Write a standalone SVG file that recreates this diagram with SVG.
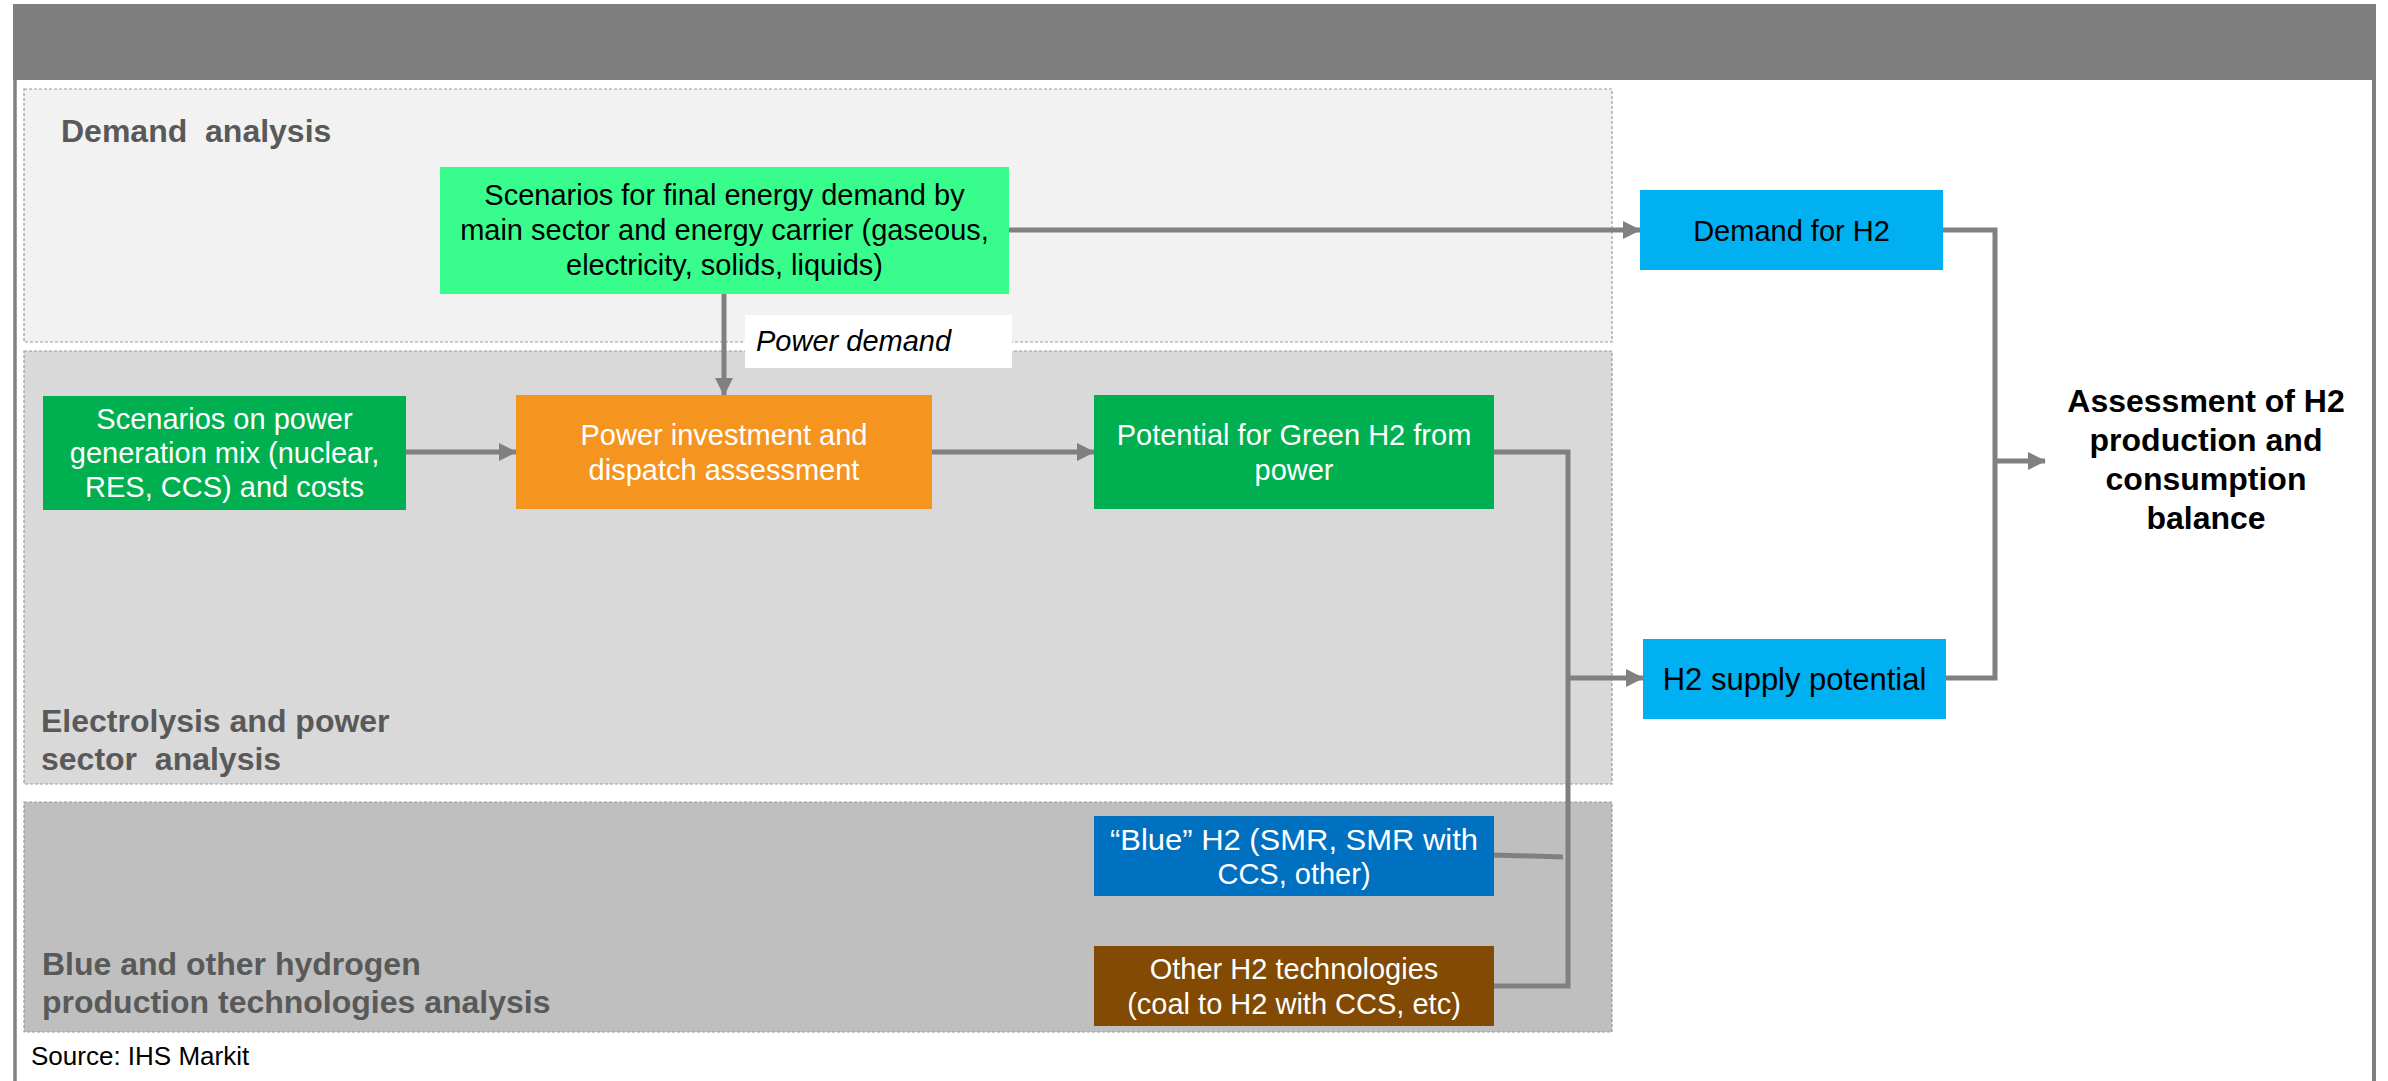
<svg xmlns="http://www.w3.org/2000/svg" width="2388" height="1081" viewBox="0 0 2388 1081">
<style>
.region{stroke:#9a9a9a;stroke-width:1.2;stroke-dasharray:3 2}
.rlabel{font-family:"Liberation Sans",Arial,sans-serif;font-size:32px;font-weight:bold;fill:#595959}
.t{font-family:"Liberation Sans",Arial,sans-serif;font-size:29px;text-anchor:middle}
.w{fill:#ffffff}
.k{fill:#000000}
.big{font-size:32px;font-weight:bold}
.conn{fill:none;stroke:#808080;stroke-width:5;stroke-linejoin:miter}
</style>
<defs>
<marker id="arr" markerUnits="userSpaceOnUse" markerWidth="18" markerHeight="18" refX="17" refY="9" orient="auto" viewBox="0 0 18 18">
<path d="M0,0 L18,9 L0,18 z" fill="#808080"/>
</marker>
</defs>
<rect width="2388" height="1081" fill="#ffffff"/>
<g id="frame">
<rect x="13" y="4" width="2363" height="76" fill="#7f7f7f"/>
<line x1="15" y1="78" x2="15" y2="1081" stroke="#808080" stroke-width="3.5"/>
<line x1="2374" y1="78" x2="2374" y2="1081" stroke="#808080" stroke-width="4"/>
</g>
<g id="region-demand">
<rect class="region" x="24" y="89" width="1588" height="253" fill="#f2f2f2"/>
<text class="rlabel" x="61" y="142" xml:space="preserve">Demand  analysis</text>
</g>
<g id="region-electrolysis">
<rect class="region" x="24" y="351" width="1588" height="433" fill="#d9d9d9"/>
<text class="rlabel" x="41" y="732">Electrolysis and power</text>
<text class="rlabel" x="41" y="770" xml:space="preserve">sector  analysis</text>
</g>
<g id="region-blue">
<rect class="region" x="24" y="802" width="1588" height="230" fill="#bfbfbf"/>
<text class="rlabel" x="42" y="975">Blue and other hydrogen</text>
<text class="rlabel" x="42" y="1013">production technologies analysis</text>
</g>
<g id="connectors">
<line class="conn" x1="1009" y1="230" x2="1640" y2="230" marker-end="url(#arr)"/>
<line class="conn" x1="724" y1="294" x2="724" y2="395" marker-end="url(#arr)"/>
<line class="conn" x1="406" y1="452" x2="516" y2="452" marker-end="url(#arr)"/>
<line class="conn" x1="932" y1="452" x2="1094" y2="452" marker-end="url(#arr)"/>
<polyline class="conn" points="1494,452 1568,452 1568,986 1494,986"/>
<line class="conn" x1="1568" y1="678" x2="1643" y2="678" marker-end="url(#arr)"/>
<line class="conn" x1="1494" y1="855" x2="1563" y2="857"/>
<polyline class="conn" points="1943,230 1995,230 1995,678 1946,678"/>
<line class="conn" x1="1995" y1="461" x2="2045" y2="461" marker-end="url(#arr)"/>
</g>
<g id="label-power-demand">
<rect x="745" y="315" width="267" height="53" fill="#ffffff"/>
<text x="756" y="351" font-family="'Liberation Sans',Arial,sans-serif" font-size="29" font-style="italic" fill="#000">Power demand</text>
</g>
<g id="node-final-demand">
<rect x="440" y="167" width="569" height="127" fill="#38fd8c"/>
<text class="t k" x="724.5" y="205">Scenarios for final energy demand by</text>
<text class="t k" x="724.5" y="240">main sector and energy carrier (gaseous,</text>
<text class="t k" x="724.5" y="275">electricity, solids, liquids)</text>
</g>
<g id="node-power-mix">
<rect x="43" y="396" width="363" height="114" fill="#00b050"/>
<text class="t w" x="224.5" y="429">Scenarios on power</text>
<text class="t w" x="224.5" y="463">generation mix (nuclear,</text>
<text class="t w" x="224.5" y="497">RES, CCS) and costs</text>
</g>
<g id="node-power-investment">
<rect x="516" y="395" width="416" height="114" fill="#f5951f"/>
<text class="t w" x="724" y="445">Power investment and</text>
<text class="t w" x="724" y="480">dispatch assessment</text>
</g>
<g id="node-green-h2">
<rect x="1094" y="395" width="400" height="114" fill="#00b050"/>
<text class="t w" x="1294" y="445">Potential for Green H2 from</text>
<text class="t w" x="1294" y="480">power</text>
</g>
<g id="node-blue-h2">
<rect x="1094" y="816" width="400" height="80" fill="#0070c0"/>
<text class="t w" x="1294" y="850" textLength="368" lengthAdjust="spacingAndGlyphs">“Blue” H2 (SMR, SMR with</text>
<text class="t w" x="1294" y="884">CCS, other)</text>
</g>
<g id="node-other-h2">
<rect x="1094" y="946" width="400" height="80" fill="#824a02"/>
<text class="t w" x="1294" y="979">Other H2 technologies</text>
<text class="t w" x="1294" y="1014">(coal to H2 with CCS, etc)</text>
</g>
<g id="node-demand-h2">
<rect x="1640" y="190" width="303" height="80" fill="#00b0f0"/>
<text class="t k" x="1791.5" y="241">Demand for H2</text>
</g>
<g id="node-supply-h2">
<rect x="1643" y="639" width="303" height="80" fill="#00b0f0"/>
<text class="t k" x="1794.5" y="690" style="font-size:31px">H2 supply potential</text>
</g>
<g id="node-assessment">
<text class="t k big" x="2206" y="412">Assessment of H2</text>
<text class="t k big" x="2206" y="451">production and</text>
<text class="t k big" x="2206" y="490">consumption</text>
<text class="t k big" x="2206" y="529">balance</text>
</g>
<g id="source">
<text x="31" y="1065" font-family="'Liberation Sans',Arial,sans-serif" font-size="26" fill="#000">Source: IHS Markit</text>
</g>
</svg>
